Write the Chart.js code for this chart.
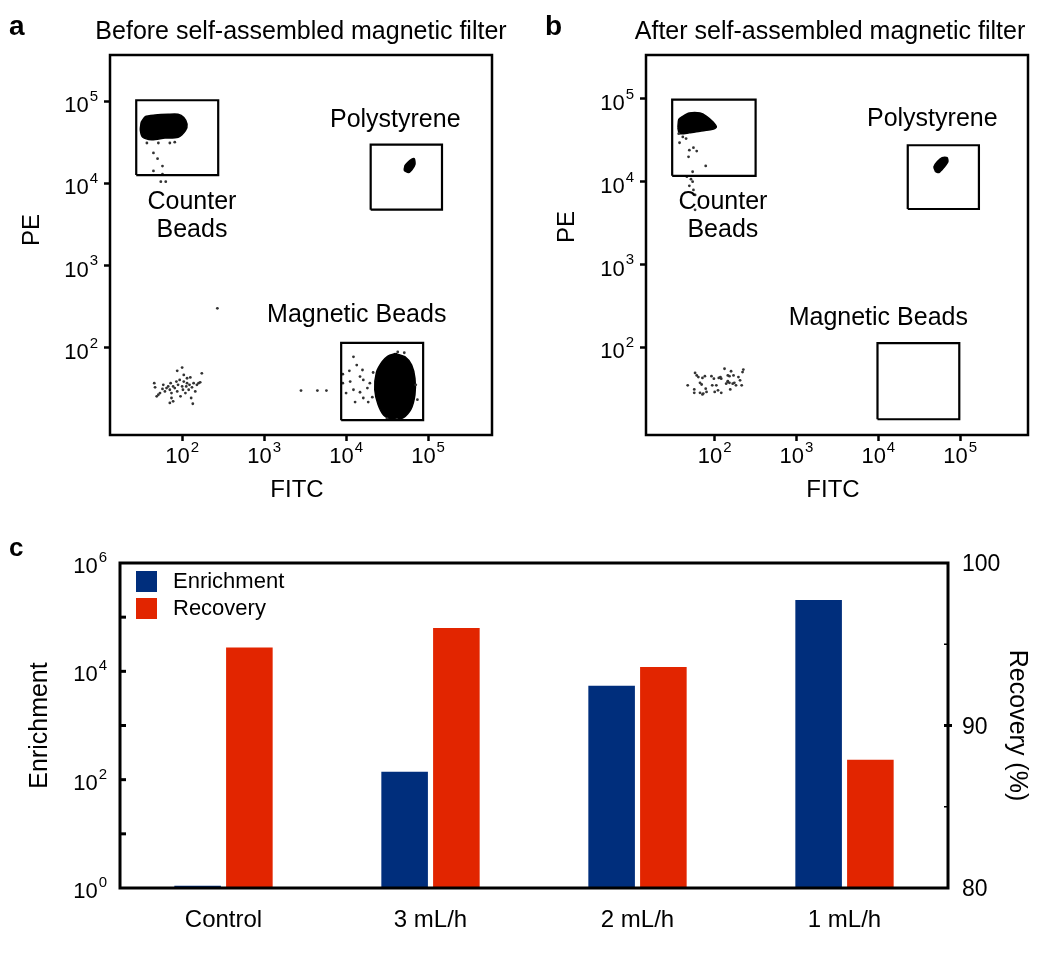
<!DOCTYPE html>
<html lang="en">
<head>
    <meta charset="UTF-8">
    <title>Self-assembled magnetic filter</title>
    <style>
      * {
    margin: 0;
    padding: 0;
    box-sizing: border-box;
}

body {
    width: 1050px;
    height: 954px;
    background: #fff;
    position: relative;
    overflow: hidden;
}

.panel {
    position: absolute;
}

#panelA { left: 0; top: 0; width: 525px; height: 510px; }
#panelB { left: 525px; top: 0; width: 525px; height: 510px; }
#panelC { left: 0; top: 530px; width: 1050px; height: 424px; }
    </style>
</head>
<body>
    <div class="panel" id="panelA"><canvas id="chartA"></canvas></div>
    <div class="panel" id="panelB"><canvas id="chartB"></canvas></div>
    <div class="panel" id="panelC"><canvas id="chartC"></canvas></div>

<script src="https://cdn.jsdelivr.net/npm/chart.js"></script>
    <script>
        // ---- flow cytometry (a, b): everything in log10 decades ----
        const fitcTicks = [2, 3, 4, 5];
        const peTicks = [2, 3, 4, 5];

        // gates: [fitcLow, fitcHigh, peLow, peHigh]
        const gatesA = [[1.44, 2.44, 4.10, 5.01], [4.30, 5.17, 3.68, 4.47], [3.94, 4.94, 1.12, 2.06]];
        const gatesB = [[1.48, 2.50, 4.07, 4.99], [4.36, 5.23, 3.67, 4.44], [3.99, 4.99, 1.13, 2.05]];

        // outlines of the dense populations
        const counterBlobA = [[1.50, 4.74], [1.55, 4.81], [1.67, 4.83], [1.83, 4.84], [1.95, 4.84], [2.02, 4.80], [2.06, 4.72],
            [2.04, 4.64], [1.95, 4.56], [1.79, 4.55], [1.63, 4.53], [1.52, 4.56], [1.49, 4.65]];
        const polyBlobA = [[4.72, 4.22], [4.78, 4.28], [4.83, 4.30], [4.84, 4.23], [4.80, 4.16], [4.76, 4.13], [4.71, 4.16]];
        const magBlobA = [[4.60, 1.93], [4.72, 1.89], [4.80, 1.79], [4.84, 1.63], [4.84, 1.43], [4.79, 1.25], [4.70, 1.15],
            [4.57, 1.12], [4.46, 1.18], [4.39, 1.31], [4.35, 1.49], [4.37, 1.70], [4.44, 1.83], [4.51, 1.90]];
        const counterBlobB = [[1.55, 4.65], [1.56, 4.75], [1.61, 4.79], [1.69, 4.83], [1.82, 4.83], [1.90, 4.79], [1.98, 4.72],
            [2.02, 4.66], [1.96, 4.63], [1.82, 4.61], [1.69, 4.59], [1.57, 4.58]];
        const polyBlobB = [[4.70, 4.12], [4.68, 4.18], [4.72, 4.24], [4.78, 4.29], [4.84, 4.29], [4.85, 4.24], [4.80, 4.17], [4.74, 4.11]];

        // single events
        const eventsA = [
            [1.66, 1.57], [1.67, 1.52], [1.69, 1.41], [1.73, 1.45], [1.76, 1.50], [1.77, 1.55], [1.79, 1.47], [1.81, 1.51],
            [1.83, 1.53], [1.85, 1.49], [1.86, 1.57], [1.87, 1.45], [1.89, 1.53], [1.89, 1.35], [1.91, 1.51], [1.93, 1.59],
            [1.94, 1.72], [1.94, 1.47], [1.95, 1.55], [1.97, 1.61], [1.98, 1.41], [2.00, 1.76], [2.00, 1.53], [2.01, 1.49],
            [2.02, 1.67], [2.02, 1.59], [2.04, 1.45], [2.05, 1.53], [2.06, 1.57], [2.06, 1.63], [2.08, 1.49], [2.09, 1.55],
            [2.10, 1.64], [2.11, 1.39], [2.12, 1.52], [2.13, 1.32], [2.14, 1.57], [2.16, 1.47], [2.18, 1.55], [2.20, 1.57],
            [2.22, 1.58], [2.24, 1.69], [1.85, 1.33], [1.71, 1.43], [1.87, 1.39],
            [4.09, 1.89], [4.13, 1.79], [3.96, 1.68], [4.05, 1.59], [4.17, 1.65], [4.21, 1.61], [4.09, 1.49], [4.00, 1.45],
            [4.17, 1.46], [4.26, 1.51], [4.29, 1.57], [4.32, 1.40], [4.11, 1.34], [4.21, 1.39], [4.27, 1.34], [3.96, 1.57],
            [4.04, 1.72], [4.33, 1.70], [4.20, 1.73],
            [3.45, 1.48], [3.65, 1.48], [3.76, 1.48], [2.43, 2.48],
            [4.85, 1.55], [4.87, 1.37], [4.63, 1.95], [4.71, 1.94], [4.50, 1.14], [4.62, 1.13],
            [1.65, 4.37], [1.70, 4.30], [1.76, 4.21], [1.65, 4.15], [1.76, 4.11], [1.74, 4.02], [1.80, 4.02],
            [1.57, 4.49], [1.71, 4.49], [1.85, 4.49], [1.91, 4.50]
        ];
        const eventsB = [
            [1.67, 1.54], [1.75, 1.49], [1.75, 1.45], [1.76, 1.69], [1.78, 1.66], [1.80, 1.64], [1.82, 1.57], [1.84, 1.55],
            [1.85, 1.63], [1.86, 1.44], [1.88, 1.65], [1.89, 1.50], [1.90, 1.46], [1.96, 1.65], [1.97, 1.54], [1.99, 1.62],
            [2.00, 1.46], [2.02, 1.54], [2.04, 1.48], [2.05, 1.63], [2.07, 1.64], [2.08, 1.45], [2.12, 1.74], [2.14, 1.56],
            [2.16, 1.58], [2.16, 1.59], [2.18, 1.57], [2.18, 1.65], [2.19, 1.49], [2.20, 1.71], [2.22, 1.56], [2.23, 1.66],
            [2.24, 1.57], [2.26, 1.54], [2.29, 1.64], [2.31, 1.60], [2.33, 1.54], [2.34, 1.70], [2.35, 1.73], [1.82, 1.45],
            [1.85, 1.43], [2.08, 1.62], [2.16, 1.66],
            [1.56, 4.58], [1.61, 4.54], [1.65, 4.52], [1.57, 4.47], [1.69, 4.38], [1.74, 4.41], [1.78, 4.37], [1.68, 4.30],
            [1.89, 4.19], [1.73, 4.12], [1.66, 4.06], [1.71, 4.03], [1.73, 4.00], [1.69, 3.95], [1.74, 3.90], [1.76, 3.84],
            [1.76, 3.66]
        ];

        // ---- bar chart (c) ----
        const flowRates = ['Control', '3 mL/h', '2 mL/h', '1 mL/h'];
        const enrichment = [1.1, 140, 5400, 207000];
        const recovery = [94.8, 96.0, 93.6, 87.9];
        const enrichTicks = [0, 2, 4, 6];     // exponents shown
        const recoveryTicks = [80, 90, 100];

        const FONT = '"Liberation Sans", Arial, Helvetica, sans-serif';

        const toPts = arr => arr.map(p => ({ x: 10 ** p[0], y: 10 ** p[1] }));
        const closeLoop = arr => toPts(arr.concat([arr[0]]));
        const gateRect = g => toPts([[g[0], g[2]], [g[1], g[2]], [g[1], g[3]], [g[0], g[3]], [g[0], g[2]]]);

        // "10" with a raised exponent
        function drawPow(ctx, exp, x, y, align, size, supSize) {
            ctx.font = size + 'px ' + FONT;
            const wBase = ctx.measureText('10').width;
            ctx.font = supSize + 'px ' + FONT;
            const wSup = ctx.measureText(String(exp)).width;
            const total = wBase + 1 + wSup;
            const left = align === 'right' ? x - total : x - total / 2;
            ctx.textAlign = 'left';
            ctx.textBaseline = 'middle';
            ctx.font = size + 'px ' + FONT;
            ctx.fillText('10', left, y);
            ctx.font = supSize + 'px ' + FONT;
            ctx.fillText(String(exp), left + wBase + 1, y - size * 0.42);
        }

        const flowDecor = {
            id: 'flowDecor',
            afterDraw(chart, args, opts) {
                const { ctx, chartArea: a, scales: { x, y } } = chart;
                ctx.save();
                ctx.strokeStyle = '#000';
                ctx.lineWidth = 2.5;
                ctx.strokeRect(a.left, a.top, a.right - a.left, a.bottom - a.top);
                ctx.fillStyle = '#000';

                fitcTicks.forEach(e => drawPow(ctx, e, x.getPixelForValue(10 ** e), a.bottom + 22, 'center', 22, 15));
                peTicks.forEach(e => drawPow(ctx, e, a.left - 12, y.getPixelForValue(10 ** e) + 5, 'right', 22, 15));

                ctx.textAlign = 'center';
                ctx.textBaseline = 'middle';
                ctx.font = '24px ' + FONT;
                ctx.fillText('FITC', opts.fitcX, a.bottom + 55);
                ctx.save();
                ctx.translate(opts.peX, opts.peY);
                ctx.rotate(-Math.PI / 2);
                ctx.fillText('PE', 0, 0);
                ctx.restore();

                ctx.font = '25px ' + FONT;
                ctx.fillText(opts.title, opts.titleX, 32);

                ctx.font = '25px ' + FONT;
                opts.labels.forEach(l => {
                    ctx.fillText(l.text, x.getPixelForValue(10 ** l.at[0]), y.getPixelForValue(10 ** l.at[1]));
                });

                ctx.textAlign = 'left';
                ctx.font = 'bold 28px ' + FONT;
                ctx.fillText(opts.letter, opts.letterX, 27);
                ctx.restore();
            }
        };

        function flowAxis(range, ticks) {
            return {
                type: 'logarithmic',
                min: 10 ** range[0],
                max: 10 ** range[1],
                bounds: 'data',
                afterBuildTicks: axis => { axis.ticks = ticks.map(e => ({ value: 10 ** e })); },
                ticks: { display: false },
                grid: { drawOnChartArea: false, drawTicks: true, tickLength: 6, tickWidth: 2.5, tickColor: '#000', color: '#000' },
                border: { display: false }
            };
        }

        function makeFlow(id, gates, blobs, events, xRange, yRange, padding, decor) {
            const datasets = [];
            blobs.forEach(b => datasets.push({
                type: 'line', data: closeLoop(b), showLine: true, fill: 'shape', tension: 0.25,
                backgroundColor: '#000', borderColor: '#000', borderWidth: 1.5, pointRadius: 0, order: 3
            }));
            datasets.push({
                type: 'scatter', data: toPts(events), pointRadius: 1.4, pointBorderWidth: 0,
                backgroundColor: '#333', order: 2
            });
            gates.forEach(g => datasets.push({
                type: 'line', data: gateRect(g), showLine: true, fill: false, tension: 0,
                borderColor: '#000', borderWidth: 2.2, pointRadius: 0, order: 1
            }));

            return new Chart(document.getElementById(id), {
                type: 'scatter',
                data: { datasets: datasets },
                options: {
                    responsive: true,
                    maintainAspectRatio: false,
                    animation: false,
                    layout: { padding: padding },
                    plugins: { legend: { display: false }, tooltip: { enabled: false }, flowDecor: decor },
                    scales: { x: flowAxis(xRange, fitcTicks), y: flowAxis(yRange, peTicks) }
                },
                plugins: [flowDecor]
            });
        }

        makeFlow('chartA', gatesA, [counterBlobA, polyBlobA, magBlobA], eventsA, [1.12, 5.78], [0.94, 5.56],
            { left: 104, right: 33, top: 55, bottom: 69 },
            {
                letter: 'a', letterX: 9, title: 'Before self-assembled magnetic filter', titleX: 301,
                fitcX: 297, peX: 32, peY: 230,
                labels: [
                    { text: 'Polystyrene', at: [4.60, 4.77] },
                    { text: 'Counter', at: [2.12, 3.77] },
                    { text: 'Beads', at: [2.12, 3.43] },
                    { text: 'Magnetic Beads', at: [4.13, 2.40] }
                ]
            });

        makeFlow('chartB', gatesB, [counterBlobB, polyBlobB], eventsB, [1.16, 5.83], [0.94, 5.53],
            { left: 115, right: 22, top: 55, bottom: 69 },
            {
                letter: 'b', letterX: 20, title: 'After self-assembled magnetic filter', titleX: 305,
                fitcX: 308, peX: 42, peY: 227,
                labels: [
                    { text: 'Polystyrene', at: [4.66, 4.75] },
                    { text: 'Counter', at: [2.10, 3.75] },
                    { text: 'Beads', at: [2.10, 3.42] },
                    { text: 'Magnetic Beads', at: [4.00, 2.35] }
                ]
            });

        // ---- panel c ----
        const barDecor = {
            id: 'barDecor',
            afterDraw(chart) {
                const { ctx, chartArea: a, scales: { x, y, y2 } } = chart;
                ctx.save();
                ctx.strokeStyle = '#000';
                ctx.fillStyle = '#000';
                ctx.lineWidth = 3;
                ctx.strokeRect(a.left, a.top, a.right - a.left, a.bottom - a.top);

                // inward ticks, every decade on the left
                for (let e = 1; e <= 5; e++) {
                    const py = y.getPixelForValue(10 ** e);
                    ctx.beginPath(); ctx.moveTo(a.left, py); ctx.lineTo(a.left + 6, py); ctx.stroke();
                }
                [85, 90, 95].forEach(v => {
                    const py = y2.getPixelForValue(v);
                    ctx.lineWidth = v === 90 ? 3 : 1.5;
                    ctx.beginPath(); ctx.moveTo(a.right - 4, py); ctx.lineTo(a.right + (v === 90 ? 4 : 0), py); ctx.stroke();
                });

                enrichTicks.forEach(e => drawPow(ctx, e, a.left - 13, y.getPixelForValue(10 ** e) + 4, 'right', 22, 15));

                ctx.textBaseline = 'middle';
                ctx.textAlign = 'left';
                ctx.font = '23px ' + FONT;
                recoveryTicks.forEach(v => ctx.fillText(String(v), a.right + 14, y2.getPixelForValue(v) + 2));

                ctx.textAlign = 'center';
                ctx.font = '24px ' + FONT;
                flowRates.forEach((c, i) => ctx.fillText(c, x.getPixelForValue(i), a.bottom + 32));

                ctx.font = '25px ' + FONT;
                ctx.save();
                ctx.translate(a.left - 80, (a.top + a.bottom) / 2);
                ctx.rotate(-Math.PI / 2);
                ctx.fillText('Enrichment', 0, 0);
                ctx.restore();
                ctx.save();
                ctx.translate(a.right + 69, (a.top + a.bottom) / 2);
                ctx.rotate(Math.PI / 2);
                ctx.fillText('Recovery (%)', 0, 0);
                ctx.restore();

                // legend
                chart.data.datasets.forEach((ds, i) => {
                    ctx.fillStyle = ds.backgroundColor;
                    ctx.fillRect(a.left + 16, a.top + 8 + i * 27, 21, 21);
                    ctx.fillStyle = '#000';
                    ctx.textAlign = 'left';
                    ctx.font = '22px ' + FONT;
                    ctx.fillText(ds.label, a.left + 53, a.top + 19 + i * 27);
                });

                ctx.font = 'bold 26px ' + FONT;
                ctx.fillText('c', 9, 19);
                ctx.restore();
            }
        };

        new Chart(document.getElementById('chartC'), {
            type: 'bar',
            data: {
                labels: flowRates,
                datasets: [
                    { label: 'Enrichment', data: enrichment, yAxisID: 'y', backgroundColor: '#002e7c' },
                    { label: 'Recovery', data: recovery, yAxisID: 'y2', backgroundColor: '#e22500' }
                ]
            },
            options: {
                responsive: true,
                maintainAspectRatio: false,
                animation: false,
                categoryPercentage: 0.5,
                barPercentage: 0.9,
                layout: { padding: { left: 120, right: 102, top: 33, bottom: 66 } },
                plugins: { legend: { display: false }, tooltip: { enabled: false } },
                scales: {
                    x: { display: false },
                    y: { type: 'logarithmic', position: 'left', min: 1, max: 1e6, display: false },
                    y2: { type: 'linear', position: 'right', min: 80, max: 100, display: false }
                }
            },
            plugins: [barDecor]
        });
    </script>
</body>
</html>
